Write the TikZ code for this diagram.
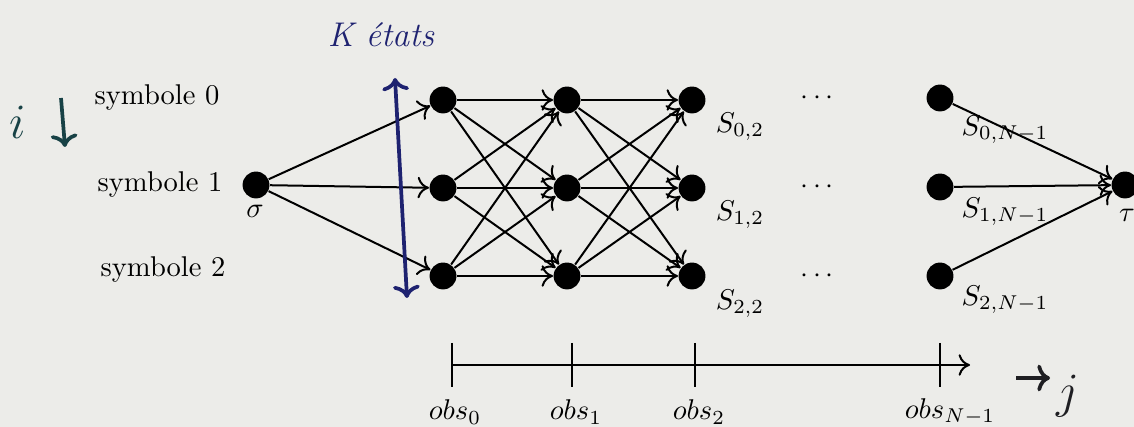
\documentclass[tikz,border=0pt]{standalone}
\usepackage{fontspec}
\usetikzlibrary{
  positioning,
  arrows.meta
}

\definecolor{paper}{RGB}{236,236,233}
\definecolor{inkblue}{RGB}{30,34,112}
\definecolor{inkteal}{RGB}{24,66,70}
\definecolor{inkdark}{RGB}{30,30,34}

\begin{document}
\begin{tikzpicture}[
    x=0.35pt,
    y=-0.35pt,
    every node/.style={font=\normalsize},
    state/.style={
        circle,
        fill=black,
        inner sep=0pt,
        minimum size=9.4pt
    },
    symlabel/.style={inner sep=1pt},
    slabel/.style={inner sep=1pt},
    arrow/.style={-{To[length=4pt,width=7.5pt]}, line width=0.7pt},
    tickline/.style={line width=0.7pt},
    inkarrow/.style={line width=1.3pt}
]

\useasboundingbox (0,0) rectangle (1134,427);
\fill[paper] (0,0) rectangle (1134,427);

% Symbol labels
\node[symlabel] (sym0) at (157,98) {symbole 0};
\node[symlabel] (sym1) at (160,185) {symbole 1};
\node[symlabel] (sym2) at (163,270) {symbole 2};

% Start and end states
\node[state] (sigma) at (256,185) {};
\node[state] (tau) at (1125,185) {};
\node (sigmalbl) at (255,211) {$\sigma$};
\node (taulbl) at (1127,215) {$\tau$};

% States, column j = 0
\node[state] (s0-0) at (443,100) {};
\node[state] (s1-0) at (443,188) {};
\node[state] (s2-0) at (443,276) {};

% States, column j = 1
\node[state] (s0-1) at (567,100) {};
\node[state] (s1-1) at (567,188) {};
\node[state] (s2-1) at (567,276) {};

% States, column j = 2
\node[state] (s0-2) at (692,100) {};
\node[state] (s1-2) at (692,188) {};
\node[state] (s2-2) at (692,276) {};

% States, column j = N-1
\node[state] (s0-N) at (940,98) {};
\node[state] (s1-N) at (940,187) {};
\node[state] (s2-N) at (940,276) {};

% State labels
\node[slabel] (l0-2) at (740,127) {$S_{0,2}$};
\node[slabel] (l1-2) at (740,215) {$S_{1,2}$};
\node[slabel] (l2-2) at (740,304) {$S_{2,2}$};
\node[slabel] (l0-N) at (1005,130) {$S_{0,N-1}$};
\node[slabel] (l1-N) at (1005,212) {$S_{1,N-1}$};
\node[slabel] (l2-N) at (1005,300) {$S_{2,N-1}$};

% Dots
\node (dots0) at (817,98) {$\cdots$};
\node (dots1) at (817,187) {$\cdots$};
\node (dots2) at (817,276) {$\cdots$};

% Arrows
\foreach \i in {0,1,2}{
  \draw[arrow] (sigma) -- (s\i-0);
  \draw[arrow] (s\i-N) -- (tau);
}
\foreach \i in {0,1,2}{
  \foreach \k in {0,1,2}{
    \draw[arrow] (s\i-0) -- (s\k-1);
    \draw[arrow] (s\i-1) -- (s\k-2);
  }
}

% Observation axis
\coordinate (t0) at (452,365);
\coordinate (t1) at (572,365);
\coordinate (t2) at (695,365);
\coordinate (tN) at (940,365);
\coordinate (tend) at (970,365);
\draw[arrow] (t0) -- (tend);
\foreach \t in {t0,t1,t2,tN}{
  \draw[tickline] (\t) ++(0,-22) -- ++(0,44);
}
\node (obs0) at (455,412) {$obs_0$};
\node (obs1) at (576,412) {$obs_1$};
\node (obs2) at (699,412) {$obs_2$};
\node (obsN) at (950,412) {$obs_{N-1}$};

% Handwritten notes
\node[inkblue, font=\large\itshape] (ketats) at (381,35) {K états};
\coordinate (kup) at (395,78);
\coordinate (kdown) at (407,298);
\draw[inkblue, inkarrow, <->] (kup) -- (kdown);

\node[inkteal, font=\LARGE] (ivar) at (18,122) {$i$};
\coordinate (itop) at (61,98);
\coordinate (ibot) at (65,147);
\draw[inkteal, inkarrow, ->] (itop) -- (ibot);

\coordinate (jleft) at (1016,378);
\coordinate (jright) at (1050,378);
\draw[inkdark, inkarrow, ->] (jleft) -- (jright);
\node[inkdark, font=\LARGE] (jvar) at (1068,396) {$j$};

\end{tikzpicture}
\end{document}
